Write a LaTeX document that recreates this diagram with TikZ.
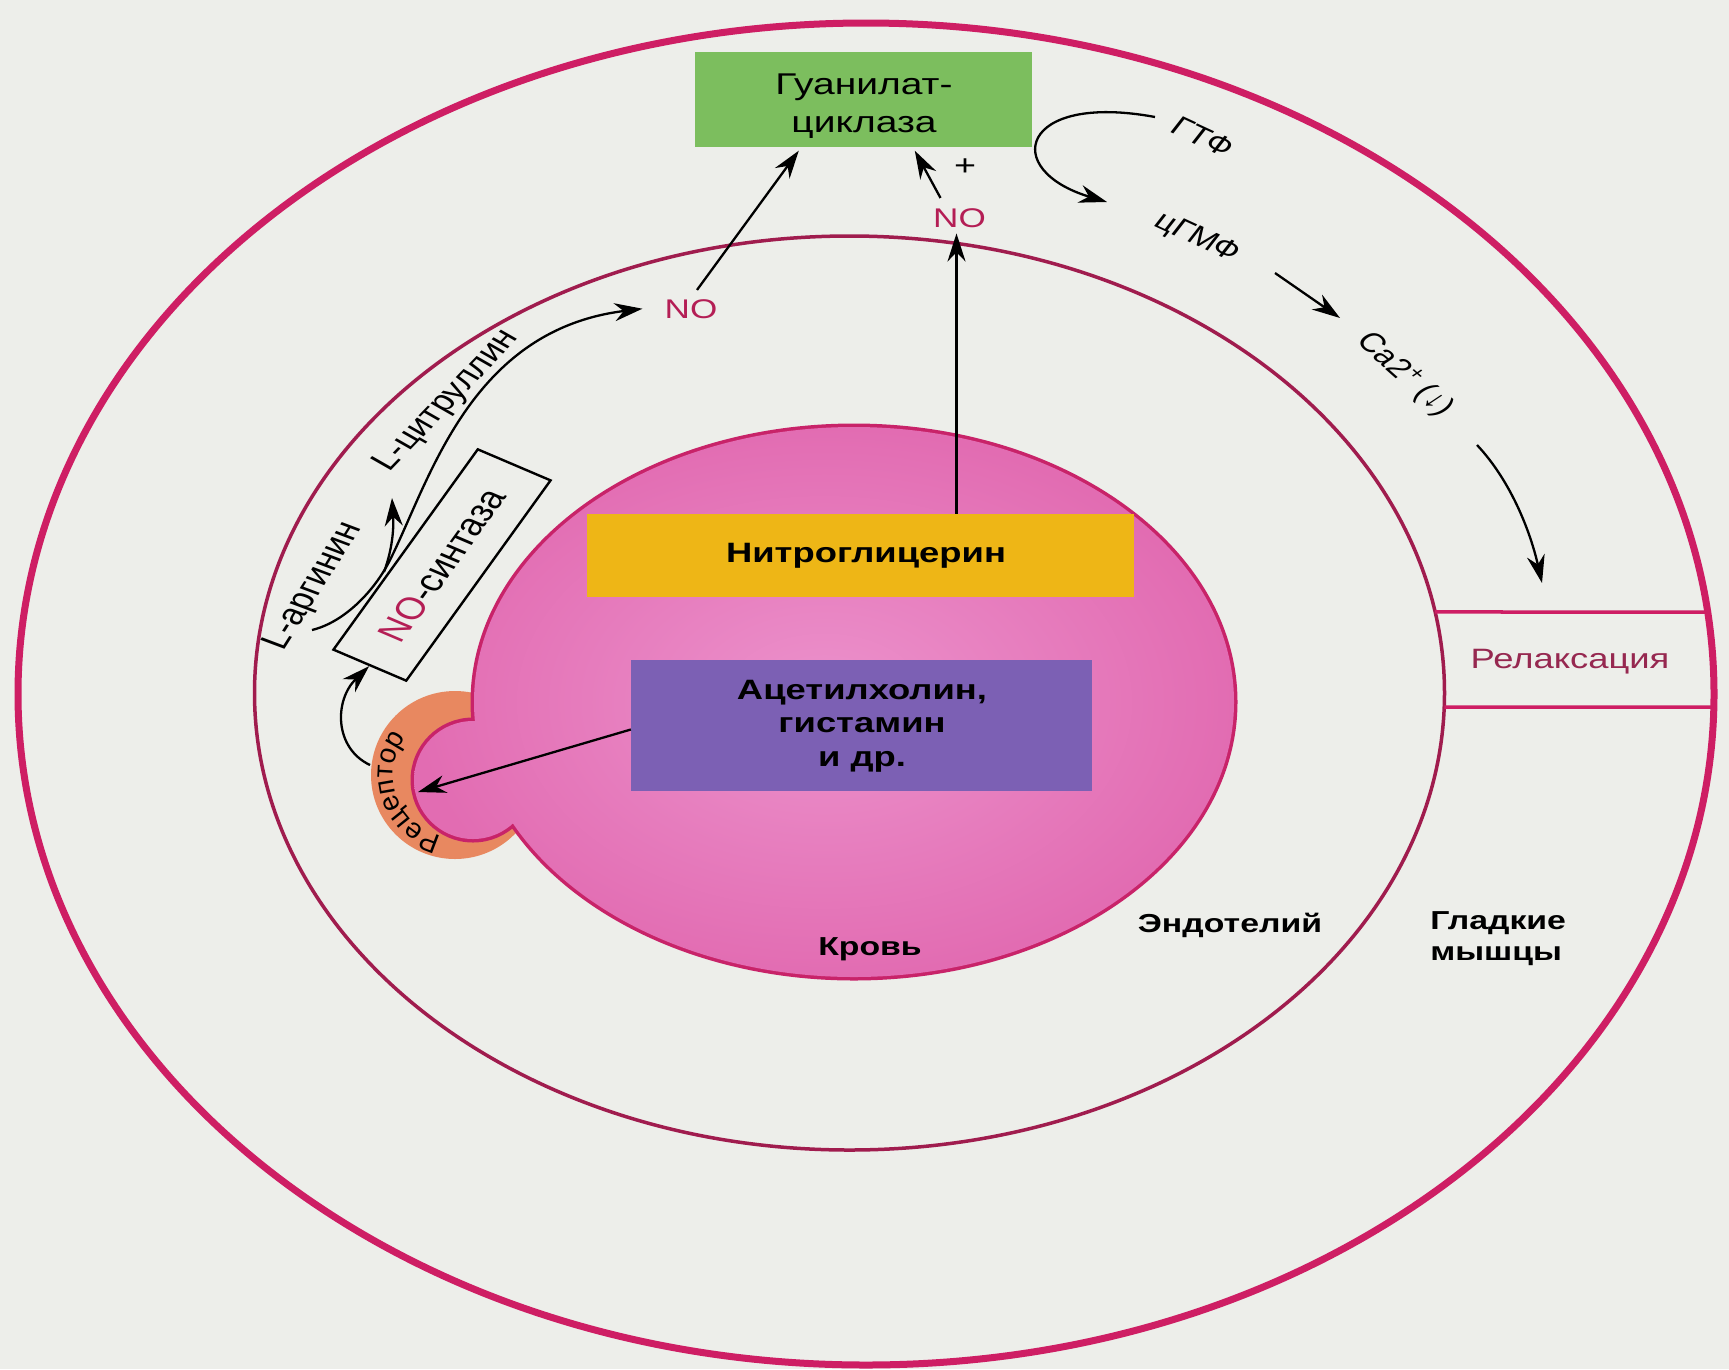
\documentclass[tikz,border=0pt]{standalone}
\usepackage{fontspec}
\setmainfont{Liberation Sans}
\usetikzlibrary{arrows.meta,decorations.text,intersections}
\definecolor{bgc}{RGB}{237,238,234}
\definecolor{crim}{RGB}{206,30,100}
\definecolor{midline}{RGB}{160,28,78}
\definecolor{bloodline}{RGB}{200,35,105}
\definecolor{pinkin}{RGB}{236,146,204}
\definecolor{pinkout}{RGB}{226,108,178}
\definecolor{gcgreen}{RGB}{124,190,94}
\definecolor{nitroyel}{RGB}{238,182,22}
\definecolor{achpur}{RGB}{124,96,180}
\definecolor{recor}{RGB}{232,136,96}
\definecolor{notxt}{RGB}{180,30,85}
\definecolor{relaxtxt}{RGB}{150,40,80}
\newcommand\fsz[2]{\fontsize{#1}{#2}\selectfont}
\newcommand\rcpfont{\fontsize{28}{30}\selectfont}
\begin{document}
\begin{tikzpicture}[x=1pt,y=1pt,
  txt/.style={inner sep=0pt, xscale=1.3},
  arr/.style={line width=2.3pt, -{Stealth[length=28pt,width=18pt]}}]
\useasboundingbox (0,0) rectangle (1729,-1369);
\fill[bgc] (0,0) rectangle (1729,-1369);

% layers
\draw[crim, line width=7pt, name path=outer] (866,-694) ellipse [x radius=848pt, y radius=671pt];
\draw[midline, line width=3.5pt, name path=mid] (849.5,-693) ellipse [x radius=595pt, y radius=457pt];

% relaxation band
\path[name path=h1] (1300,-612) -- (1729,-612);
\path[name path=h2] (1300,-707) -- (1729,-707);
\path[name intersections={of=mid and h1, by={m1}}];
\path[name intersections={of=outer and h1, by={o1}}];
\path[name intersections={of=mid and h2, by={m2}}];
\path[name intersections={of=outer and h2, by={o2}}];
\draw[crim, line width=3.5pt] (m1) -- (o1);
\draw[crim, line width=3.5pt] (m2) -- (o2);
\node[txt, font=\fsz{28}{32}, text=relaxtxt, anchor=base] (relax) at (1570,-668) {Релаксация};

% receptor and blood
\fill[recor] (455,-775) circle [radius=84pt];
\draw[bloodline, line width=7pt] (854,-702) ellipse [x radius=380pt, y radius=275pt] (473,-780) circle [radius=59pt];
\shade[inner color=pinkin, outer color=pinkout] (854,-702) ellipse [x radius=380pt, y radius=275pt] (473,-780) circle [radius=59pt];
\path[decorate, decoration={text along path, text align=center, text={|\rcpfont|Рецептор}}]
  (455,-775) ++(266:62pt) arc [start angle=266, end angle=134, radius=62pt];

% boxes
\node[fill=gcgreen, minimum width=337pt, minimum height=95pt, inner sep=0pt] (gc) at (863.5,-99) {};
\node[txt, align=center, font=\fsz{30}{38}] (gct) at (864,-106) {Гуанилат-\\циклаза};
\node[fill=nitroyel, minimum width=547pt, minimum height=83pt, inner sep=0pt] (nitro) at (860.5,-555.5) {};
\node[txt, font=\bfseries\fsz{28}{34}, anchor=base] (nitt) at (866,-562) {Нитроглицерин};
\node[fill=achpur, minimum width=461pt, minimum height=131pt, inner sep=0pt] (ach) at (861.5,-725.5) {};
\node[txt, align=center, font=\bfseries\fsz{28}{33.5}] (acht) at (862,-726) {Ацетилхолин,\\гистамин\\и др.};

% labels
\node[txt, font=\bfseries\fsz{26}{31}, anchor=base] (blood) at (870,-955) {Кровь};
\node[txt, font=\bfseries\fsz{26}{31}, anchor=base] (endo) at (1230,-932) {Эндотелий};
\node[txt, font=\bfseries\fsz{26}{31}, align=left, anchor=west] (smooth) at (1430,-939) {Гладкие\\мышцы};

% small texts
\node[txt, font=\fsz{27}{32}, text=notxt, anchor=base] (noL) at (691,-318) {NO};
\node[txt, font=\fsz{27}{32}, text=notxt, anchor=base] (noT) at (959.5,-227) {NO};
\node[txt, font=\fsz{29}{34}] (plus) at (965,-167) {+};
\node[txt, font=\fsz{27}{32}, rotate=-31] (gtf) at (1203,-137) {ГТФ};
\node[txt, font=\fsz{27}{32}, rotate=-31] (cgmp) at (1197,-238) {цГМФ};
\node[txt, font=\fsz{27}{32}, rotate=-49] (ca) at (1405,-375) {Ca2\textsuperscript{+} (↓)};
\node[txt, font=\fsz{30}{32}, rotate=64] (larg) at (314,-586) {L-аргинин};
\node[txt, font=\fsz{29}{32}, rotate=53.4] (lcit) at (447,-401) {L-цитруллин};
\node[txt, draw, line width=2.4pt, minimum width=229pt, minimum height=64pt, font=\fsz{31}{34}, rotate=61] (nos) at (442,-565) {\textcolor{notxt}{NO}-синтаза};

% coordinates
\coordinate (vtop) at ([xshift=-3pt,yshift=-6pt]noT.south);
\coordinate (rtip) at (418,-792);
\coordinate (rs) at (370,-765);
\coordinate (argstart) at (312,-630);
\coordinate (br) at (390,-560);
\coordinate (brs) at (384,-572);
\coordinate (brt) at (392,-498);
\coordinate (gtfs) at (1155,-117);
\coordinate (gtft) at (1107,-202);
\coordinate (cgs) at (1275,-273);
\coordinate (cgt) at (1340,-318);
\coordinate (cas) at (1477,-445);
\coordinate (relt) at (1542,-583);

% arrows
\draw[arr] ([shift={(-19pt,10pt)}]noT.north) -- ([shift={(220pt,-4pt)}]gc.south west);
\draw[arr] ([shift={(6pt,9pt)}]noL.north) -- ([shift={(104pt,-4pt)}]gc.south west);
\draw[arr] (vtop |- nitro.north) -- (vtop);
\draw[arr] ([yshift=-4pt]ach.west) -- (rtip);
\draw[arr] (rs) .. controls (334,-748) and (334,-700) .. (nos.west);
\draw[arr] (argstart) .. controls (345,-622) and (375,-590) .. (br) .. controls (430,-480) and (470,-330) .. ([xshift=-22pt]noL.west);
\draw[arr] (brs) .. controls (392,-550) and (394,-530) .. (brt);
\draw[arr] (gtfs) .. controls (1020,-92) and (1000,-170) .. (gtft);
\draw[arr] (cgs) -- (cgt);
\draw[arr] (cas) .. controls (1510,-480) and (1530,-530) .. (relt);
\end{tikzpicture}
\end{document}
